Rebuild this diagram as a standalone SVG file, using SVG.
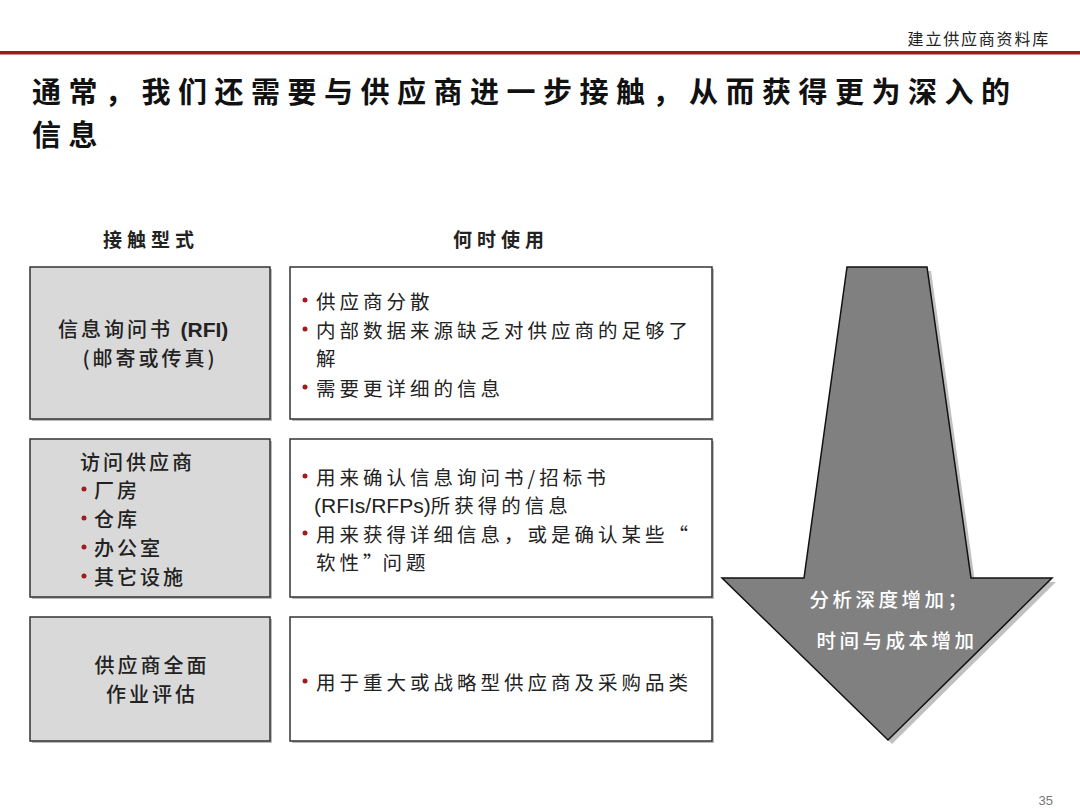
<svg xmlns="http://www.w3.org/2000/svg" width="1080" height="810" viewBox="0 0 1080 810">
<style>
.cjk{font-family:"Noto Sans CJK SC","Liberation Sans",sans-serif;fill:#222}
.title{font-size:29px;font-weight:bold;letter-spacing:7.5px;fill:#111}
.hdr{font-size:19px;font-weight:bold;letter-spacing:5px}
.lt{font-size:20px;font-weight:500;letter-spacing:3px}
.rt{font-size:19.5px;letter-spacing:4px}
.lat{font-family:"Liberation Sans",sans-serif;letter-spacing:0}
.bul{fill:#a01c1c}
.lbox{fill:#d9d9d9;stroke:#333;stroke-width:1.5}
.rbox{fill:#fff;stroke:#333;stroke-width:1.5}
.shd{fill:#bbb}
.at{font-size:19.5px;font-weight:500;letter-spacing:3.5px;fill:#fff}
</style>
<rect width="1080" height="810" fill="#fff"/>
<g id="header">
<text class="cjk" x="1050" y="45" font-size="16" letter-spacing="1.8" text-anchor="end">建立供应商资料库</text>
<rect x="0" y="51" width="1080" height="3.5" fill="#9b1b1b"/>
</g>
<g id="title">
<text class="cjk title" x="32" y="103">通常，我们还需要与供应商进一步接触，从而获得更为深入的</text>
<text class="cjk title" x="32" y="146">信息</text>
</g>
<g id="col-headings">
<text class="cjk hdr" x="103" y="247">接触型式</text>
<text class="cjk hdr" x="453" y="247">何时使用</text>
</g>
<g id="node-rfi">
<rect class="shd" x="32" y="269" width="240" height="152"/>
<rect class="lbox" x="30" y="267" width="240" height="152"/>
<text class="cjk lt" x="58" y="337">信息询问书 <tspan class="lat" font-weight="bold" font-size="21">(RFI)</tspan></text>
<text class="cjk lt" x="150" y="366" text-anchor="middle" font-weight="bold">(邮寄或传真)</text>
</g>
<g id="node-rfi-use">
<rect class="shd" x="292" y="269" width="422" height="152"/>
<rect class="rbox" x="290" y="267" width="422" height="152"/>
<circle class="bul" cx="305" cy="300" r="2.5"/>
<text class="cjk rt" x="316" y="309">供应商分散</text>
<circle class="bul" cx="305" cy="329" r="2.5"/>
<text class="cjk rt" x="316" y="338">内部数据来源缺乏对供应商的足够了</text>
<text class="cjk rt" x="316" y="366">解</text>
<circle class="bul" cx="305" cy="387" r="2.5"/>
<text class="cjk rt" x="316" y="396">需要更详细的信息</text>
</g>
<g id="node-visit">
<rect class="shd" x="32" y="441" width="240" height="158"/>
<rect class="lbox" x="30" y="439" width="240" height="158"/>
<text class="cjk lt" x="80" y="470">访问供应商</text>
<circle class="bul" cx="84" cy="489" r="2.5"/>
<text class="cjk lt" x="94" y="498">厂房</text>
<circle class="bul" cx="84" cy="518" r="2.5"/>
<text class="cjk lt" x="94" y="527">仓库</text>
<circle class="bul" cx="84" cy="547" r="2.5"/>
<text class="cjk lt" x="94" y="556">办公室</text>
<circle class="bul" cx="84" cy="576" r="2.5"/>
<text class="cjk lt" x="94" y="585">其它设施</text>
</g>
<g id="node-visit-use">
<rect class="shd" x="292" y="441" width="422" height="158"/>
<rect class="rbox" x="290" y="439" width="422" height="158"/>
<circle class="bul" cx="305" cy="476" r="2.5"/>
<text class="cjk rt" x="316" y="485">用来确认信息询问书/招标书</text>
<text class="cjk rt" x="314" y="513"><tspan class="lat" font-size="21">(RFIs/RFPs)</tspan>所获得的信息</text>
<circle class="bul" cx="305" cy="533" r="2.5"/>
<text class="cjk rt" x="316" y="542">用来获得详细信息，或是确认某些<tspan letter-spacing="0">“</tspan></text>
<text class="cjk rt" x="316" y="570">软性<tspan letter-spacing="0">”</tspan>问题</text>
</g>
<g id="node-audit">
<rect class="shd" x="32" y="619" width="240" height="124"/>
<rect class="lbox" x="30" y="617" width="240" height="124"/>
<text class="cjk lt" x="152" y="673" text-anchor="middle">供应商全面</text>
<text class="cjk lt" x="152" y="702" text-anchor="middle">作业评估</text>
</g>
<g id="node-audit-use">
<rect class="shd" x="292" y="619" width="422" height="124"/>
<rect class="rbox" x="290" y="617" width="422" height="124"/>
<circle class="bul" cx="305" cy="681" r="2.5"/>
<text class="cjk rt" x="316" y="690">用于重大或战略型供应商及采购品类</text>
</g>
<g id="node-arrow">
<polygon points="851,271 931,271 975,582 1056,582 892,744 726,582 807,582" fill="#c0c0c0"/>
<polygon points="847,267 927,267 971,578 1052,578 888,740 722,578 804,578" fill="#808080" stroke="#111" stroke-width="1.5" stroke-linejoin="miter"/>
<text class="cjk at" x="890" y="607" text-anchor="middle">分析深度增加；</text>
<text class="cjk at" x="897" y="648" text-anchor="middle">时间与成本增加</text>
</g>
<g id="connectors"></g>
<text x="1053" y="805" font-family="Liberation Sans, sans-serif" font-size="13" fill="#777" text-anchor="end">35</text>
</svg>
